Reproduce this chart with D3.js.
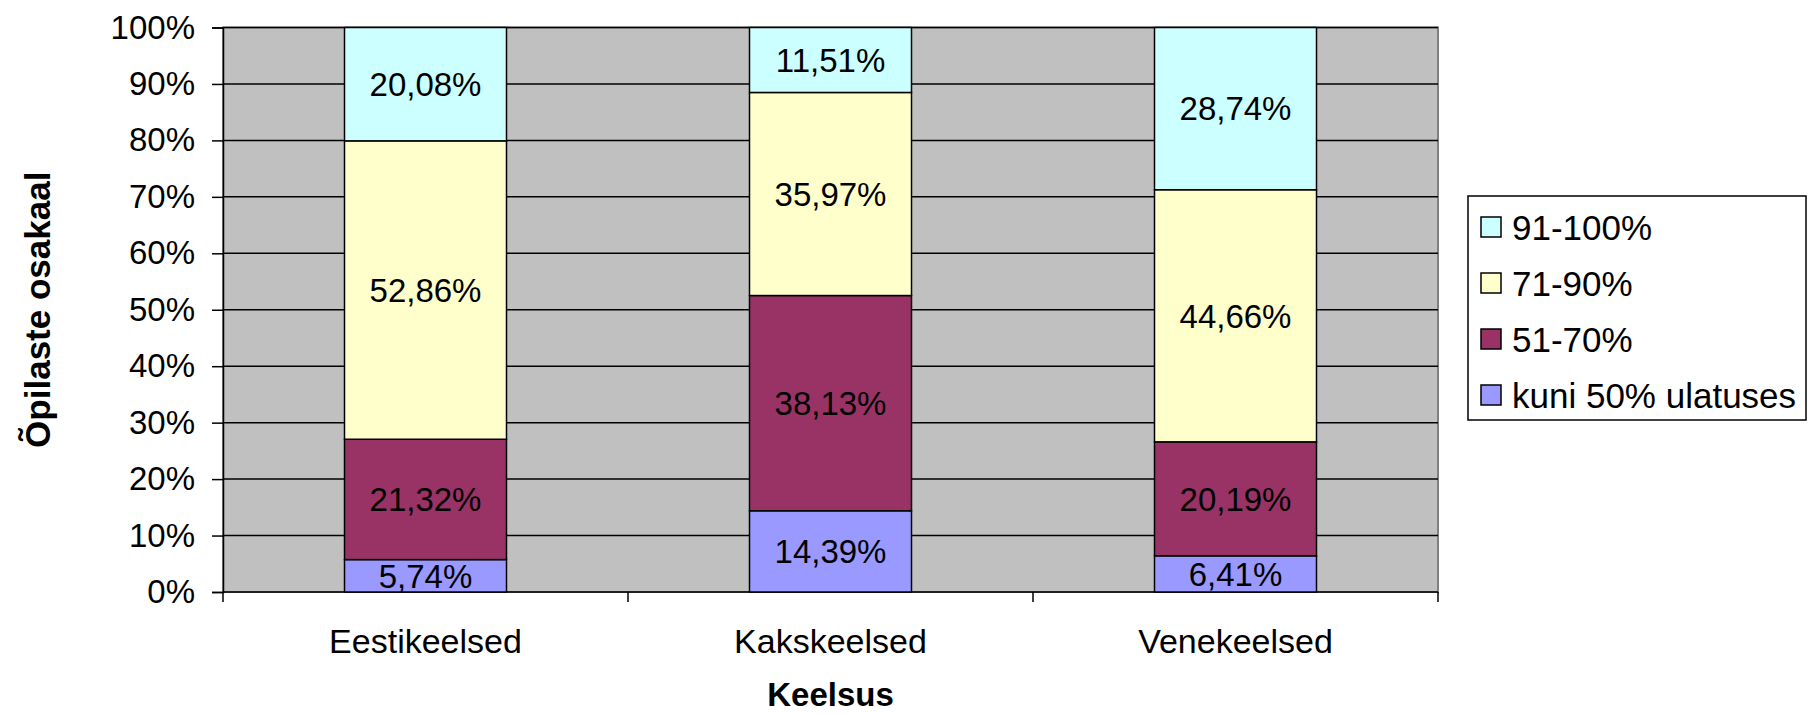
<!DOCTYPE html>
<html><head><meta charset="utf-8">
<script src="https://cdn.jsdelivr.net/npm/d3@7"></script>
<style>body{margin:0;background:#fff}svg{display:block}text{font-family:Arial,"Liberation Sans",sans-serif}</style>
</head><body><svg id="c" width="1810" height="716"></svg>
<script>
const categories = ["Eestikeelsed", "Kakskeelsed", "Venekeelsed"];
const seriesNames = ["kuni 50% ulatuses", "51-70%", "71-90%", "91-100%"];
const kuni50 = [5.74, 14.39, 6.41];
const s51_70 = [21.32, 38.13, 20.19];
const s71_90 = [52.86, 35.97, 44.66];
const s91_100 = [20.08, 11.51, 28.74];
const colors = ["#9999FF", "#993366", "#FFFFCC", "#CCFFFF"];
const yTicks = [0,10,20,30,40,50,60,70,80,90,100];
const yLabel = "Õpilaste osakaal";
const xLabel = "Keelsus";

const seriesVals = [kuni50, s51_70, s71_90, s91_100];
const svg = d3.select("#c");
const L = 223, R = 1438, T = 27.5, B = 592;
const x = d3.scaleBand().domain(categories).range([L, R]).padding(0);
const y = d3.scaleLinear().domain([0, 100]).range([B, T]);
const fmt = v => v.toFixed(2).replace(".", ",") + "%";

svg.append("rect").attr("x", L).attr("y", T).attr("width", R - L).attr("height", B - T)
  .attr("fill", "#C0C0C0").attr("stroke", "#808080").attr("stroke-width", 2);

// gridlines
svg.append("g").selectAll("line").data(yTicks.filter(t => t > 0)).join("line")
  .attr("x1", L).attr("x2", R).attr("y1", d => y(d)).attr("y2", d => y(d))
  .attr("stroke", "#000").attr("stroke-width", 1.5);

// y axis
const ya = d3.axisLeft(y).tickValues(yTicks).tickSize(11).tickPadding(17).tickFormat(d => d + "%");
const gy = svg.append("g").attr("transform", `translate(${L},0)`).call(ya);
gy.select(".domain").attr("stroke", "#000").attr("stroke-width", 1.5);
gy.selectAll(".tick line").attr("stroke", "#000").attr("stroke-width", 1.5);
gy.selectAll(".tick text").attr("font-size", 33).attr("fill", "#000").attr("font-family", "Arial, 'Liberation Sans', sans-serif");

// x axis baseline & ticks at band boundaries
svg.append("line").attr("x1", L).attr("x2", R).attr("y1", B).attr("y2", B).attr("stroke", "#000").attr("stroke-width", 1.5);
const bounds = categories.map(c => x(c)).concat([x(categories[categories.length - 1]) + x.bandwidth()]);
svg.append("g").selectAll("line").data(bounds).join("line")
  .attr("x1", d => d).attr("x2", d => d).attr("y1", B).attr("y2", B + 10)
  .attr("stroke", "#000").attr("stroke-width", 1.5);
svg.append("g").selectAll("text").data(categories).join("text")
  .attr("x", d => x(d) + x.bandwidth() / 2).attr("y", 653)
  .attr("text-anchor", "middle").attr("font-size", 34).text(d => d);

// stacked bars
const barW = x.bandwidth() / 2.5;
const rows = categories.map((c, i) => {
  const o = { cat: c };
  seriesNames.forEach((s, j) => o[s] = seriesVals[j][i]);
  return o;
});
const stack = d3.stack().keys(seriesNames)(rows);
const gb = svg.append("g");
stack.forEach((layer, j) => {
  layer.forEach(d => {
    const cx = x(d.data.cat) + x.bandwidth() / 2;
    gb.append("rect").attr("x", cx - barW / 2).attr("y", y(d[1]))
      .attr("width", barW).attr("height", y(d[0]) - y(d[1]))
      .attr("fill", colors[j]).attr("stroke", "#000").attr("stroke-width", 1.5);
  });
});
stack.forEach((layer, j) => {
  layer.forEach(d => {
    const cx = x(d.data.cat) + x.bandwidth() / 2;
    gb.append("text").attr("x", cx).attr("y", (y(d[0]) + y(d[1])) / 2)
      .attr("dy", "0.36em").attr("text-anchor", "middle").attr("font-size", 33)
      .attr("fill", "#000").text(fmt(d[1] - d[0]));
  });
});

// axis titles
svg.append("text").attr("transform", `translate(50,${(T + B) / 2}) rotate(-90)`)
  .attr("text-anchor", "middle").attr("font-size", 35).attr("font-weight", "bold").text(yLabel);
svg.append("text").attr("x", (L + R) / 2).attr("y", 706)
  .attr("text-anchor", "middle").attr("font-size", 33).attr("font-weight", "bold").text(xLabel);

// legend
const lg = svg.append("g");
lg.append("rect").attr("x", 1468).attr("y", 196).attr("width", 338).attr("height", 224)
  .attr("fill", "#fff").attr("stroke", "#000").attr("stroke-width", 1.5);
const legOrder = seriesNames.slice().reverse();
legOrder.forEach((s, k) => {
  const j = seriesNames.indexOf(s);
  const cy = 227 + k * 56;
  lg.append("rect").attr("x", 1481).attr("y", cy - 10).attr("width", 20).attr("height", 20)
    .attr("fill", colors[j]).attr("stroke", "#000").attr("stroke-width", 1.5);
  lg.append("text").attr("x", 1512).attr("y", cy).attr("dy", "0.36em")
    .attr("font-size", 35).text(s);
});
</script></body></html>
